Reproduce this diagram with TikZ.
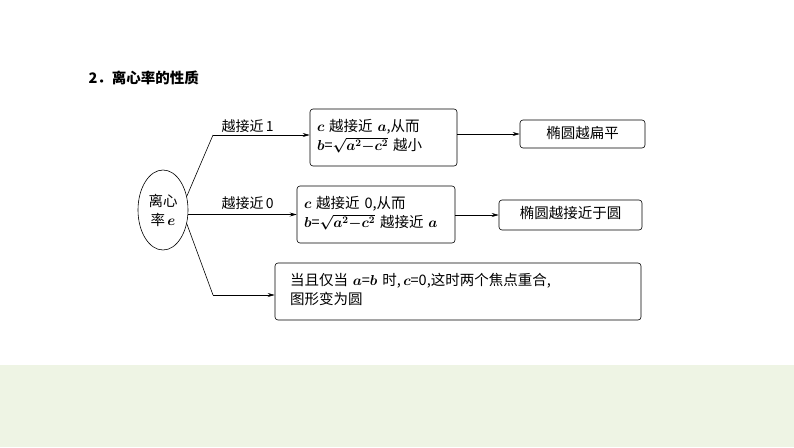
\documentclass[tikz,border=0pt]{standalone}
\usepackage{fontspec}
\setmainfont{Liberation Serif}
\newfontfamily\cjk{Noto Sans CJK SC}
\usetikzlibrary{arrows.meta,shapes.geometric}
\definecolor{bandgreen}{HTML}{EEF4E4}
\tikzset{
  box/.style={draw, rounded corners=3pt, line width=0.6pt, align=left, inner ysep=0pt, text height=2ex},
  link/.style={draw, line width=0.6pt, -{Stealth[length=7pt,width=4pt]}},
  lab/.style={font=\cjk\fontsize{14}{16}\selectfont},
}
\begin{document}
\begin{tikzpicture}[x=1pt,y=-1pt,font=\cjk\fontsize{14.5}{19}\selectfont\boldmath]
\useasboundingbox (0,0) rectangle (794,447);
\fill[bandgreen] (0,365) rectangle (794,447);
% title
\node [right] (title) at (85,78) {\textbf{2．离心率的性质}};
% centre
\node [ellipse, draw, line width=0.6pt, minimum width=50, minimum height=80, inner sep=0pt, align=center] (e) at (163,210) {离心\\率\,$e$};
% boxes
\node [box, text width=133, minimum height=57, inner xsep=7] (near1) at (383.5,137.5) {$c$\ 越接近\ $a$,从而\\$b$=$\sqrt{a^2{-}c^2}$\ 越小};
\node [box, text width=144, minimum height=57, inner xsep=7] (near0) at (376,214.5) {$c$\ 越接近\ 0,从而\\$b$=$\sqrt{a^2{-}c^2}$\ 越接近\ $a$};
\node [box, text width=336, minimum height=57, inner xsep=15] (circ) at (458,291.5) {当且仅当\ $a$=$b$\ 时,\,$c$=0,这时两个焦点重合,\\图形变为圆};
\node [box, minimum width=125, minimum height=28, align=center] (flat) at (582.5,134) {椭圆越扁平};
\node [box, minimum width=143, minimum height=30, align=center] (round) at (570.5,215) {椭圆越接近于圆};
% branches
\coordinate (k1) at (213,135);
\coordinate (k3) at (213,295);
\draw [line width=0.6pt] (e.30) -- (k1);
\draw [link] (k1) -- (k1 -| near1.west);
\node [lab, above right] (l1) at (218,136) {越接近\,1};
\draw [link] (e.east |- near0) -- (near0.west);
\node [lab, above right] (l0) at (218,213) {越接近\,0};
\draw [line width=0.6pt] (e.-30) -- (k3);
\draw [link] (k3) -- (k3 -| circ.west);
\draw [link] (near1.east |- flat) -- (flat.west);
\draw [link] (near0.east |- round) -- (round.west);
\end{tikzpicture}
\end{document}
